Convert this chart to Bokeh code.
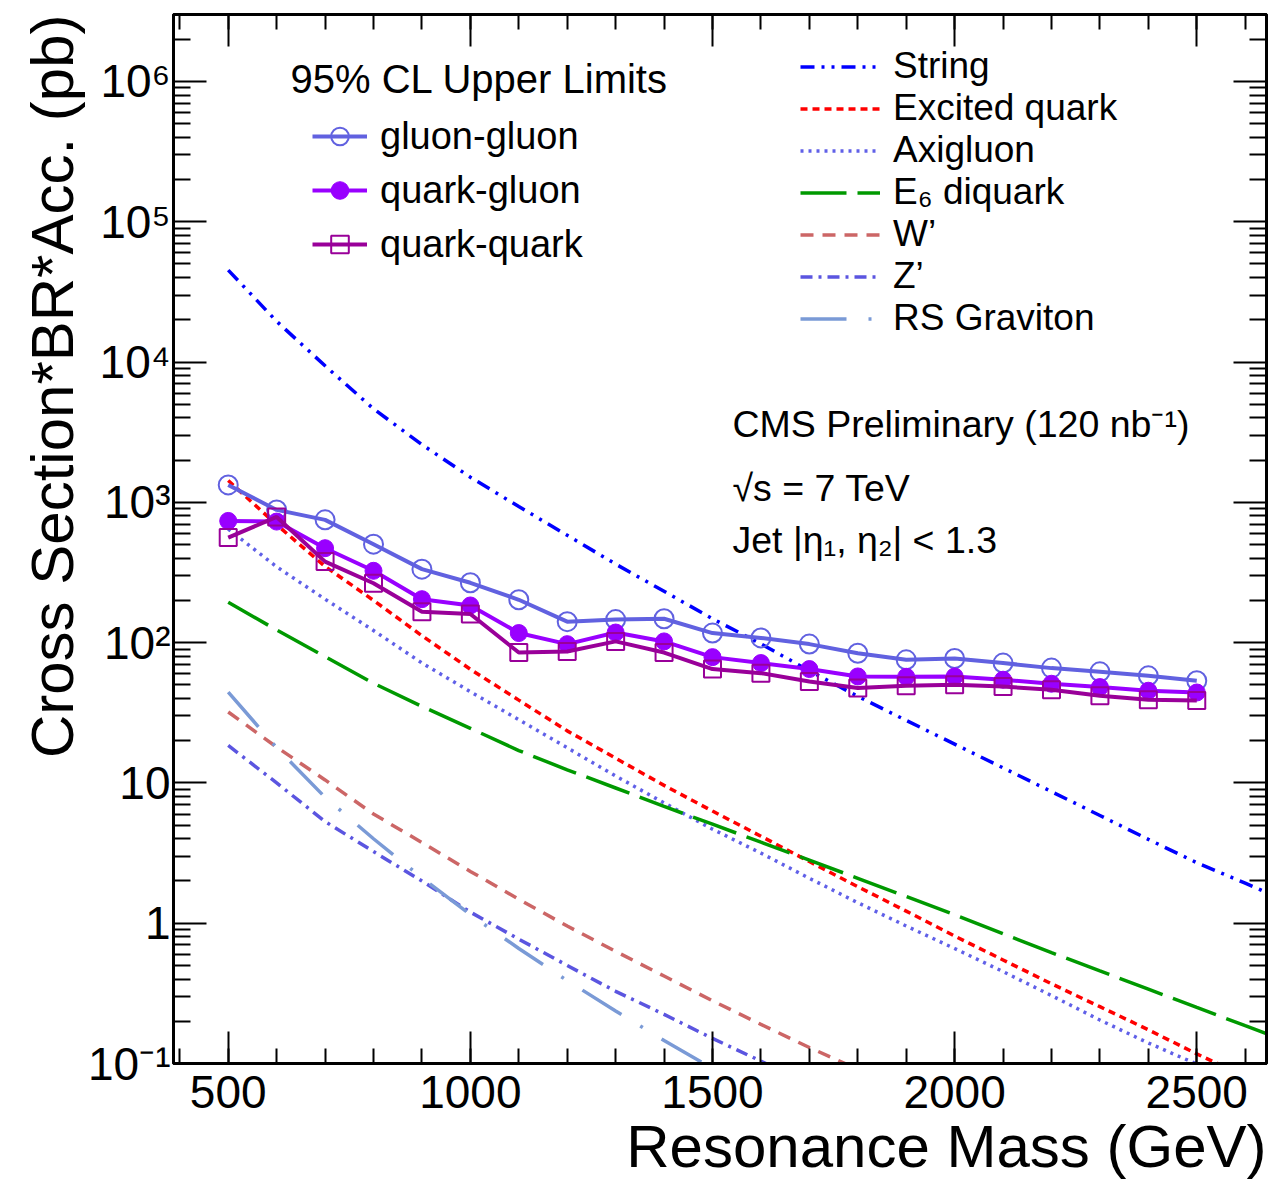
from bokeh.plotting import figure
from bokeh.models import (Range1d, LinearAxis, LogAxis, FixedTicker, SingleIntervalTicker,
                          Legend, LegendItem, Label, Title)
from bokeh.embed import file_html
from bokeh.resources import INLINE

FONT = "Liberation Sans"

# ---------------- data ----------------
mass = [500, 600, 700, 800, 900, 1000, 1100, 1200, 1300, 1400, 1500,
        1600, 1700, 1800, 1900, 2000, 2100, 2200, 2300, 2400, 2500]
gluon_gluon = [1330, 883, 750, 503, 334, 267, 202, 141, 146, 148, 117,
               108, 97.6, 84, 75.4, 77, 71.5, 65.8, 61.9, 58, 53.5]
quark_gluon = [737, 729, 471, 325, 204, 184, 117, 97.5, 118, 102, 78.8,
               71.5, 64.8, 57.4, 57.1, 57.4, 54.4, 50.9, 48.2, 45.4, 44.1]
quark_quark = [561, 787, 378, 265, 166, 160, 85, 86.5, 102, 85, 64.8,
               60.6, 52.8, 47.4, 49.2, 50, 48.6, 46.1, 41.8, 39.2, 38.7]

theory_mass = [500, 600, 700, 800, 900, 1000, 1100, 1200, 1300, 1400, 1500,
               1600, 1700, 1800, 1900, 2000, 2100, 2200, 2300, 2400, 2500, 2600, 2700]
string_xs = [45200, 19500, 9400, 4640, 2580, 1510, 933, 582, 363, 232, 148,
             98, 63, 41.4, 27.9, 18.9, 12.8, 8.67, 5.86, 3.96, 2.70, 1.93, 1.36]
excited_quark = [1430, 692, 349, 200, 112, 64.6, 38.9, 23.5, 15.0, 9.6, 6.3,
                 4.17, 2.75, 1.82, 1.22, 0.81, 0.547, 0.37, 0.254, 0.174, 0.117, 0.081, 0.056]
axigluon = [645, 347, 204, 122, 71.6, 44.7, 28.2, 17.8, 11.2, 7.2, 4.68,
            3.16, 2.09, 1.40, 0.955, 0.66, 0.452, 0.305, 0.204, 0.140, 0.099, 0.069, 0.048]
e6_diquark = [194, 123, 79.4, 51.3, 35.1, 24.5, 17.0, 12.4, 9.2, 6.8, 5.08,
              3.78, 2.82, 2.09, 1.55, 1.15, 0.84, 0.617, 0.457, 0.339, 0.251, 0.186, 0.138]
w_prime = [32, 18, 10.5, 6.0, 3.76, 2.34, 1.48, 0.955, 0.63, 0.42, 0.28,
           0.19, 0.13, 0.091, 0.063]
z_prime = [18.5, 10, 5.3, 3.24, 2.0, 1.2, 0.77, 0.50, 0.327, 0.224, 0.151,
           0.104, 0.071]
rs_graviton = [44.4, 17.8, 7.9, 4.0, 2.11, 1.15, 0.66, 0.39, 0.237, 0.146, 0.092, 0.058]

y_major = [0.1, 1, 10, 100, 1e3, 1e4, 1e5, 1e6]
y_labels = ["10\u207b\u00b9", "1", "10", "10\u00b2", "10\u00b3", "10\u2074", "10\u2075", "10\u2076"]
y_minor = [k * 10.0 ** e for e in range(-1, 7) for k in range(2, 10) if k * 10.0 ** e <= 3e6]

# ---------------- figure ----------------
p = figure(width=1268, height=1181,
           x_range=Range1d(387, 2644), y_range=Range1d(0.1, 3e6),
           y_axis_type="log", output_backend="svg", toolbar_location=None,
           min_border_left=173, min_border_right=2, min_border_top=14, min_border_bottom=118)
p.grid.visible = False
p.outline_line_color = "black"
p.outline_line_width = 3
p.background_fill_color = "white"
p.border_fill_color = "white"

xticker = SingleIntervalTicker(interval=500, num_minor_ticks=5)
yticker = FixedTicker(ticks=y_major, minor_ticks=y_minor)


def style_axis(ax, vertical):
    ax.axis_line_width = 3
    ax.axis_line_color = "black"
    ax.major_tick_line_width = 2
    ax.minor_tick_line_width = 2
    ax.major_tick_out = 0
    ax.minor_tick_out = 0
    ax.major_tick_in = 33 if vertical else 32
    ax.minor_tick_in = 17 if vertical else 15
    ax.major_label_text_font = FONT
    ax.major_label_text_font_size = "46px"
    ax.major_label_text_color = "black"


xa = p.xaxis[0]
xa.ticker = xticker
style_axis(xa, False)
xa.major_label_standoff = 12

ya = p.yaxis[0]
ya.ticker = yticker
style_axis(ya, True)
ya.major_label_overrides = {v: t for v, t in zip(y_major, y_labels)}
ya.major_label_standoff = 3

top_ax = LinearAxis(ticker=xticker)
style_axis(top_ax, False)
top_ax.major_label_text_font_size = "1px"
top_ax.major_label_text_color = None
top_ax.major_label_standoff = 0
p.add_layout(top_ax, "above")

right_ax = LogAxis(ticker=yticker)
style_axis(right_ax, True)
right_ax.major_label_text_font_size = "1px"
right_ax.major_label_text_color = None
right_ax.major_label_standoff = 0
p.add_layout(right_ax, "right")

# axis titles, aligned to the far end of each axis as in the original
p.add_layout(Title(text="Resonance Mass (GeV)", align="right", text_font=FONT,
                   text_font_size="60px", text_font_style="normal", text_color="black",
                   standoff=0), "below")
p.add_layout(Title(text="Cross Section*BR*Acc. (pb)", align="right", text_font=FONT,
                   text_font_size="60px", text_font_style="normal", text_color="black",
                   standoff=0), "left")

# ---------------- theory curves ----------------
def theory(vals, color, dash, width=3.5):
    return p.line(theory_mass[:len(vals)], vals, line_color=color, line_dash=dash,
                  line_width=width)

r_string = theory(string_xs, "#0000ff", "14 7 3 7 3 7")
r_exq = theory(excited_quark, "#ff0000", "7 5")
r_axi = theory(axigluon, "#6060e8", "3 5")
r_e6 = theory(e6_diquark, "#009900", "46 11")
r_wp = theory(w_prime, "#cc6666", "13 9")
r_zp = theory(z_prime, "#5b55e0", "12 6 3 6")
r_rs = theory(rs_graviton, "#7a9ad6", "46 22 3 22")

# ---------------- limits ----------------
c_gg, c_qg, c_qq = "#6161e0", "#9900ff", "#990099"
l_gg = p.line(mass, gluon_gluon, line_color=c_gg, line_width=4)
m_gg = p.scatter(mass, gluon_gluon, marker="circle", size=19, fill_color=None,
                 line_color=c_gg, line_width=2)
l_qg = p.line(mass, quark_gluon, line_color=c_qg, line_width=4)
m_qg = p.scatter(mass, quark_gluon, marker="circle", size=17, fill_color=c_qg,
                 line_color=c_qg, line_width=1)
l_qq = p.line(mass, quark_quark, line_color=c_qq, line_width=4)
m_qq = p.scatter(mass, quark_quark, marker="square", size=17, fill_color=None,
                 line_color=c_qq, line_width=2)

# ---------------- legends ----------------
leg1 = Legend(items=[LegendItem(label="gluon-gluon", renderers=[l_gg, m_gg]),
                     LegendItem(label="quark-gluon", renderers=[l_qg, m_qg]),
                     LegendItem(label="quark-quark", renderers=[l_qq, m_qq])],
              location=(139, 797), label_text_font=FONT, label_text_font_size="38px",
              label_text_color="black",
              glyph_width=55, glyph_height=44, label_height=44, label_standoff=13,
              spacing=10, padding=0, margin=0, border_line_alpha=0,
              background_fill_alpha=0)
p.add_layout(leg1)

leg2 = Legend(items=[LegendItem(label="String", renderers=[r_string]),
                     LegendItem(label="Excited quark", renderers=[r_exq]),
                     LegendItem(label="Axigluon", renderers=[r_axi]),
                     LegendItem(label="E\u2086 diquark", renderers=[r_e6]),
                     LegendItem(label="W\u2019", renderers=[r_wp]),
                     LegendItem(label="Z\u2019", renderers=[r_zp]),
                     LegendItem(label="RS Graviton", renderers=[r_rs])],
              location=(627, 724), label_text_font=FONT, label_text_font_size="37px",
              label_text_color="black",
              glyph_width=80, glyph_height=41, label_height=41, label_standoff=13,
              spacing=0, padding=0, margin=0, border_line_alpha=0,
              background_fill_alpha=0)
p.add_layout(leg2)

# ---------------- text ----------------
def note(x, y, text, size="38px"):
    p.add_layout(Label(x=x, y=y, x_units="screen", y_units="screen", text=text,
                       text_font=FONT, text_font_size=size, text_baseline="middle",
                       text_color="black"))

note(117, 985, "95% CL Upper Limits", "40px")
note(559, 640, "CMS Preliminary (120 nb\u207b\u00b9)", "37.5px")
note(559, 576, "\u221as = 7 TeV", "37.5px")
note(559, 524, "Jet |\u03b7\u2081, \u03b7\u2082| < 1.3", "37.5px")

open("out.html", "w").write(file_html(p, INLINE))
